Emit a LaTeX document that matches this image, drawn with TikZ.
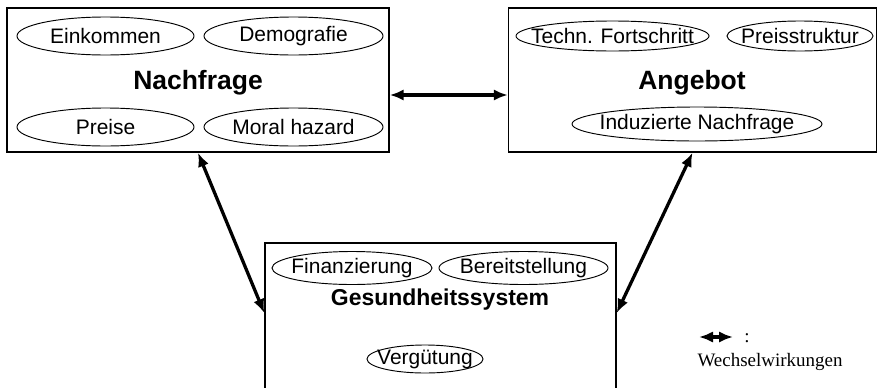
\documentclass[tikz,border=0pt]{standalone}
\usepackage{fontspec}
\setmainfont{Liberation Sans}
\newfontfamily\legendfont{Liberation Serif}
\usepackage{tikz}
\usetikzlibrary{arrows.meta,shapes.geometric,positioning}

\newcommand{\fac}[1]{\makebox[0pt]{#1}}

\begin{document}
\begin{tikzpicture}[
    x=0.03cm, y=-0.03cm,
    bigbox/.style={draw, line width=1.2pt, minimum width=#1, inner sep=0pt},
    factor/.style={draw, ellipse, line width=0.8pt, inner sep=0pt, font=\fontsize{17.9}{20}\selectfont},
    title/.style={font=\fontsize{22.6}{26}\selectfont\bfseries},
    arrow/.style={{Latex[length=0.42cm,width=0.34cm]}-{Latex[length=0.42cm,width=0.34cm]}, line width=2.8pt}
]
\useasboundingbox (0,0) rectangle (878,387);
\clip (0,0) rectangle (878,387);

\node[bigbox=11.46cm, minimum height=4.32cm] (nachfrage) at (198,80) {};
\node[bigbox=11.04cm, minimum height=4.32cm] (angebot) at (692.5,80) {};
\node[bigbox=10.53cm, minimum height=4.56cm] (gesundheit) at (440.5,319) {};

\node[title] (nftitle) at (198,83) {Nachfrage};
\node[title] (antitle) at (692,83) {Angebot};
\node[title, font=\fontsize{19.6}{23}\selectfont\bfseries] (gstitle) at (440,300) {Gesundheitssystem};

\node[factor, minimum width=5.31cm, minimum height=1.14cm] (einkommen) at (105.5,36) {\fac{Einkommen}};
\node[factor, minimum width=5.37cm, minimum height=1.14cm] (demografie) at (293.5,36) {\fac{Demografie}};
\node[factor, minimum width=5.31cm, minimum height=1.14cm] (preise) at (105.5,127) {\fac{Preise}};
\node[factor, minimum width=5.37cm, minimum height=1.14cm] (moral) at (293.5,127) {\fac{Moral hazard}};

\node[factor, minimum width=5.79cm, minimum height=0.9cm] (techn) at (612.5,36) {\fac{Techn. Fortschritt}};
\node[factor, minimum width=4.38cm, minimum height=0.9cm] (preisstruktur) at (800,36) {\fac{Preisstruktur}};
\node[factor, minimum width=7.5cm, minimum height=1.02cm] (induziert) at (697,124) {\fac{Induzierte Nachfrage}};

\node[factor, minimum width=4.8cm, minimum height=0.99cm] (finanzierung) at (352,268) {\fac{Finanzierung}};
\node[factor, minimum width=5.07cm, minimum height=0.99cm] (bereitstellung) at (523.5,268) {\fac{Bereitstellung}};
\node[factor, minimum width=3.48cm, minimum height=0.84cm] (verguetung) at (425,359) {\fac{Vergütung}};

\draw[arrow] ([yshift=-0.45cm]nachfrage.east) -- ([yshift=-0.45cm]angebot.west);
\draw[arrow] (nachfrage.south) -- ([yshift=0.18cm]gesundheit.west);
\draw[arrow] (angebot.south) -- ([yshift=0.18cm]gesundheit.east);

\coordinate (legstart) at (699,337);
\coordinate (legend) at (733,337);
\draw[arrow] (legstart) -- (legend);
\node[font=\legendfont\fontsize{16.2}{18}\selectfont] (colon) at (747,338) {:};
\node[font=\legendfont\fontsize{16.2}{18}\selectfont] (wechsel) at (770,362) {Wechselwirkungen};
\end{tikzpicture}
\end{document}
